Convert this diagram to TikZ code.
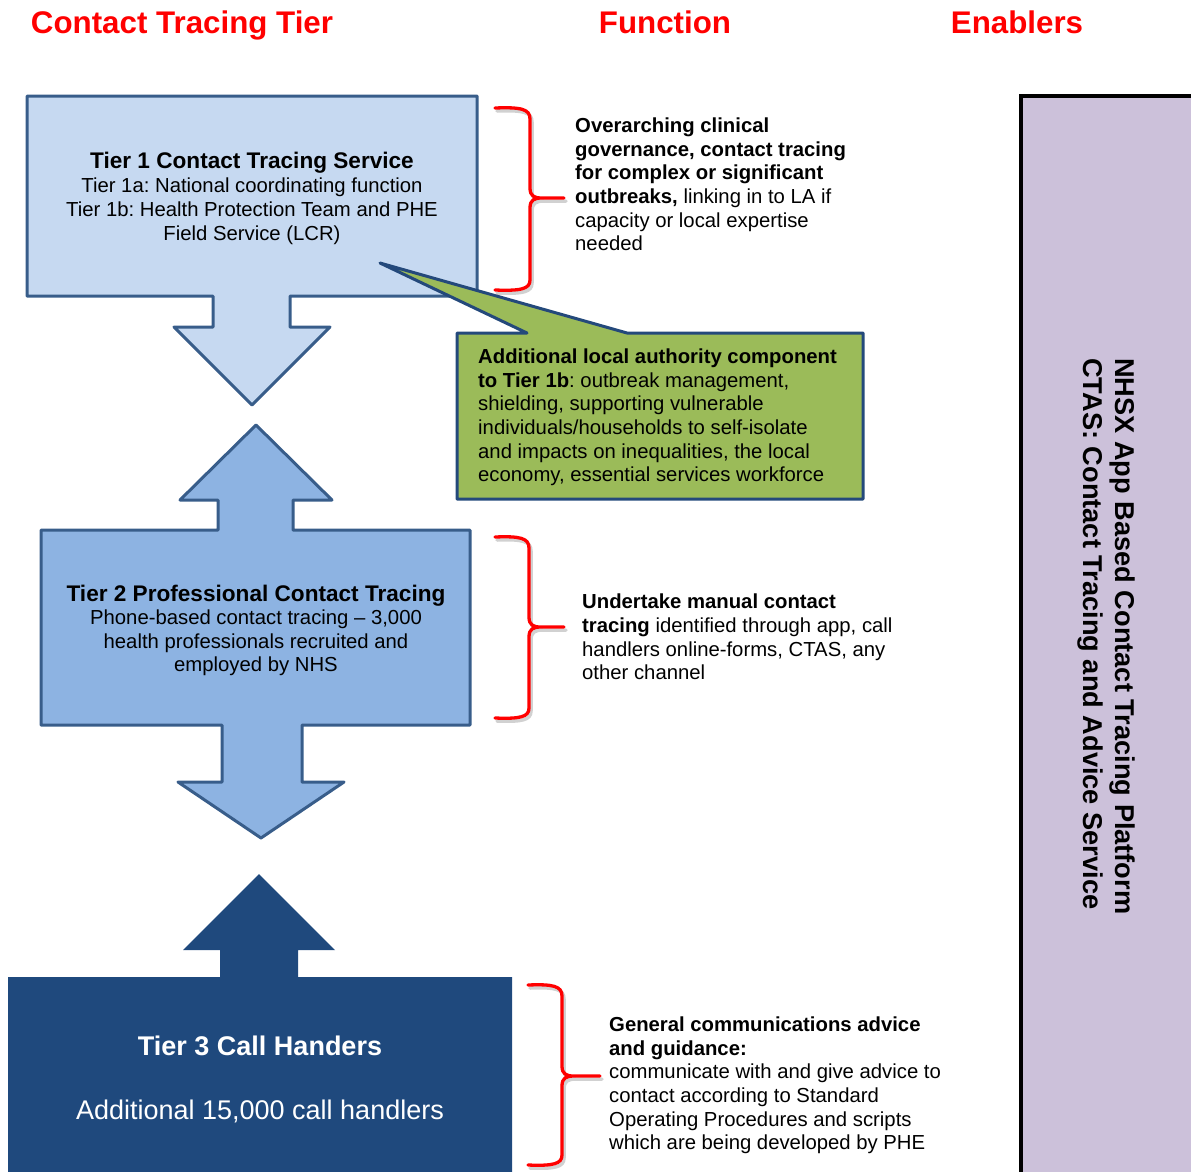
\documentclass[tikz,border=0pt]{standalone}
\usepackage{fontspec}
\setmainfont{Liberation Sans}
\frenchspacing
\definecolor{tierAfill}{HTML}{C6D9F1}
\definecolor{tierBfill}{HTML}{8DB3E2}
\definecolor{tierCfill}{HTML}{1F497D}
\definecolor{tierline}{HTML}{385D8A}
\definecolor{calloutfill}{HTML}{9BBB59}
\definecolor{calloutline}{HTML}{24497B}
\definecolor{enablerfill}{HTML}{CCC1DA}
\definecolor{headred}{HTML}{FF0000}
\begin{document}
\begin{tikzpicture}[x=1pt, y=-1pt,
  tiershape/.style={draw=tierline, line width=3pt, line join=round},
  bracepath/.style={draw=red, line width=3.3pt, line cap=round, line join=round},
  braceshade/.style={draw=black, opacity=0.18, line width=3.5pt, line cap=round, line join=round},
  heading/.style={font=\fontsize{31.3}{36}\selectfont\bfseries, text=headred, inner sep=0pt, anchor=base},
  bodytext/.style={font=\fontsize{20.3}{23.6}\selectfont, inner sep=0pt}]

\useasboundingbox (0,0) rectangle (1191,1171);
\clip (0,0) rectangle (1191,1171);

% column headings
\node[heading] (hTier) at (182,33) {Contact Tracing Tier};
\node[heading] (hFunc) at (665,33) {Function};
\node[heading] (hEnab) at (1017,33) {Enablers};

% enablers column
\draw[fill=enablerfill, draw=black, line width=3.5pt] (1021,96) rectangle (1230,1200);
\node[font=\fontsize{27.2}{32}\selectfont\bfseries, align=left, inner sep=0pt,
      rotate=-90, anchor=west] (enabler) at (1106,358)
  {NHSX App Based Contact Tracing Platform\\CTAS: Contact Tracing and Advice Service};

% tier 1 box with down arrow
\draw[tiershape, fill=tierAfill]
  (27,96) -- (477,96) -- (477,296) -- (290,296) -- (290,327) -- (330,327)
  -- (252,405) -- (174,327) -- (213,327) -- (213,296) -- (27,296) -- cycle;
\node[bodytext, font=\fontsize{20.3}{24}\selectfont, align=center] (tierA) at (252,198)
  {{\fontsize{22.6}{25}\selectfont\bfseries Tier 1 Contact Tracing Service}\\
   Tier 1a: National coordinating function\\
   Tier 1b: Health Protection Team and PHE\\
   Field Service (LCR)};

% local authority callout
\draw[draw=calloutline, line width=3pt, line join=round, fill=calloutfill]
  (457,333) -- (527,333) -- (380,263) -- (627,333) -- (863,333)
  -- (863,499) -- (457,499) -- cycle;
\node[bodytext, align=left, anchor=west] (localAuth) at (478,417.5)
  {\textbf{Additional local authority component}\\
   \textbf{to Tier 1b}: outbreak management,\\
   shielding, supporting vulnerable\\
   individuals/households to self-isolate\\
   and impacts on inequalities, the local\\
   economy, essential services workforce};

% tier 2 box with double arrow
\draw[tiershape, fill=tierBfill]
  (41,530) -- (218,530) -- (218,500) -- (180,500) -- (256,425) -- (332,500)
  -- (293,500) -- (293,530) -- (470,530) -- (470,725) -- (302,725) -- (302,782)
  -- (344,782) -- (261,838) -- (178,782) -- (222,782) -- (222,725) -- (41,725) -- cycle;
\node[bodytext, align=center] (tierB) at (256,630.5)
  {{\fontsize{22.6}{25}\selectfont\bfseries Tier 2 Professional Contact Tracing}\\
   Phone-based contact tracing -- 3,000\\
   health professionals recruited and\\
   employed by NHS};

% tier 3 box with up arrow
\fill[tierCfill]
  (8,977) -- (220,977) -- (220,950) -- (183,950) -- (259,874) -- (335,950)
  -- (298,950) -- (298,977) -- (512,977) -- (512,1190) -- (8,1190) -- cycle;
\node[font=\fontsize{27}{32}\selectfont, text=white, align=center, inner sep=0pt] (tierC) at (260,1079.5)
  {\textbf{Tier 3 Call Handers}\\[32pt]
   Additional 15,000 call handlers};

% braces
\foreach \dx/\dy/\sty in {2/3/braceshade, 0/0/bracepath} {
  \begin{scope}[shift={(\dx,\dy)}]
    \draw[\sty] (495,108) .. controls (521,107) and (530,109) .. (530,119) -- (530,188)
      .. controls (530,196) and (534,198) .. (542,198) -- (564,198)
      (542,198) .. controls (534,198) and (530,200) .. (530,208) -- (530,280)
      .. controls (530,289) and (521,291) .. (495,290);
    \draw[\sty] (495,537) .. controls (520,536) and (529,538) .. (529,548) -- (529,617)
      .. controls (529,625) and (533,627) .. (541,627) -- (564,627)
      (541,627) .. controls (533,627) and (529,629) .. (529,637) -- (529,708)
      .. controls (529,717) and (520,719) .. (495,718);
    \draw[\sty] (528,985) .. controls (553,984) and (562,986) .. (562,996) -- (562,1066)
      .. controls (562,1074) and (566,1076) .. (574,1076) -- (600,1076)
      (574,1076) .. controls (566,1076) and (562,1078) .. (562,1086) -- (562,1155)
      .. controls (562,1164) and (553,1166) .. (528,1165);
  \end{scope}
}

% function descriptions
\node[bodytext, align=left, anchor=west] (funcA) at (575,184.5)
  {\textbf{Overarching clinical}\\
   \textbf{governance, contact tracing}\\
   \textbf{for complex or significant}\\
   \textbf{outbreaks,} linking in to LA if\\
   capacity or local expertise\\
   needed};
\node[bodytext, align=left, anchor=west] (funcB) at (582,637)
  {\textbf{Undertake manual contact}\\
   \textbf{tracing} identified through app, call\\
   handlers online-forms, CTAS, any\\
   other channel};
\node[bodytext, align=left, anchor=west] (funcC) at (609,1085.5)
  {\textbf{General communications advice}\\
   \textbf{and guidance:}\\
   communicate with and give advice to\\
   contact according to Standard\\
   Operating Procedures and scripts\\
   which are being developed by PHE};

\end{tikzpicture}
\end{document}
